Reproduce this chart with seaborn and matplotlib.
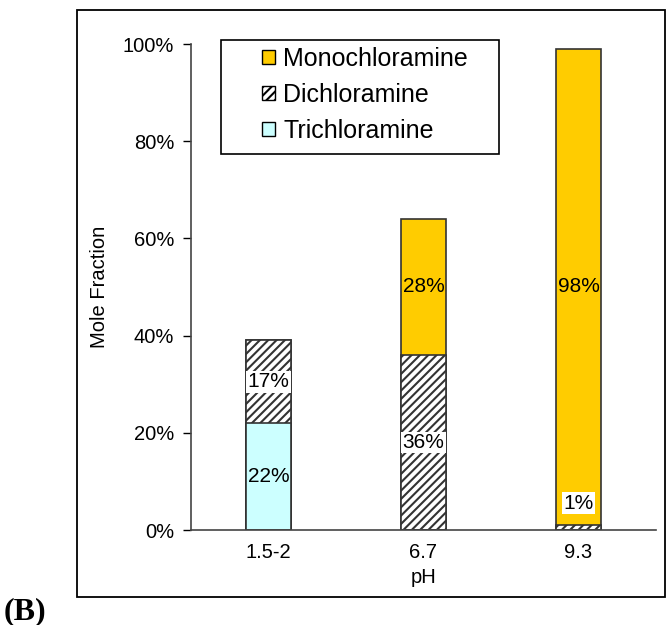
import numpy as np
import pandas as pd
import matplotlib
matplotlib.use("Agg")
import matplotlib.pyplot as plt
import seaborn as sns
from matplotlib.patches import Patch, Rectangle
from matplotlib.ticker import PercentFormatter

# data (mole fraction, %)
ph_labels = ["1.5-2", "6.7", "9.3"]
trichloramine = [22, 0, 0]
dichloramine = [17, 36, 1]
monochloramine = [0, 28, 98]

sns.set_style("white")
plt.rcParams["font.family"] = ["Liberation Sans", "DejaVu Sans"]
plt.rcParams["hatch.linewidth"] = 1.5
plt.rcParams["hatch.color"] = "black"
for key in ["text.color", "axes.labelcolor", "xtick.color", "ytick.color"]:
    plt.rcParams[key] = "black"

df = pd.DataFrame({"pH": ph_labels, "tri": trichloramine,
                   "di": dichloramine, "mono": monochloramine})
df["tri_top"] = df["tri"] / 100
df["di_top"] = (df["tri"] + df["di"]) / 100
df["mono_top"] = (df["tri"] + df["di"] + df["mono"]) / 100

W, H = 667, 625
fig = plt.figure(figsize=(W / 100, H / 100), dpi=100)
ax = fig.add_axes([191 / W, 95 / H, 465 / W, 486 / H])

bar_w = 0.29
sns.barplot(data=df, x="pH", y="mono_top", color="#FFCC00", width=bar_w,
            edgecolor="#333333", linewidth=1.2, saturation=1, ax=ax)
sns.barplot(data=df, x="pH", y="di_top", color="white", width=bar_w,
            edgecolor="#333333", linewidth=1.2, saturation=1, hatch="////", ax=ax)
sns.barplot(data=df, x="pH", y="tri_top", color="#CCFFFF", width=bar_w,
            edgecolor="#333333", linewidth=1.2, saturation=1, ax=ax)

# value labels
box = dict(facecolor="white", edgecolor="none", pad=1.0)
lab_fs = 15
for i, row in df.iterrows():
    if row["tri"] > 0:
        ax.text(i, row["tri_top"] / 2, f"{row['tri']}%", ha="center", va="center",
                fontsize=lab_fs)
    if row["di"] > 0:
        y = (row["tri_top"] + row["di_top"]) / 2
        if row["di"] < 3:
            y = row["di_top"] + 0.045
        ax.text(i, y, f"{row['di']}%", ha="center", va="center",
                fontsize=lab_fs, bbox=box)
    if row["mono"] > 0:
        ax.text(i, (row["di_top"] + row["mono_top"]) / 2, f"{row['mono']}%",
                ha="center", va="center", fontsize=lab_fs)

ax.set_ylim(0, 1)
ax.set_xlim(-0.5, 2.5)
ax.set_yticks(np.arange(0, 1.01, 0.2))
ax.yaxis.set_major_formatter(PercentFormatter(1.0, decimals=0))
ax.set_xticks([0, 1, 2])
ax.set_xticklabels(ph_labels)
ax.set_xticks([-0.5, 0.5, 1.5, 2.5], minor=True)
ax.tick_params(axis="x", which="major", length=0, labelsize=14.5, pad=9)
ax.tick_params(axis="x", which="minor", direction="out", length=6, width=1)
ax.tick_params(axis="y", direction="out", length=6, width=1, labelsize=14.5, pad=6,
               left=True)
ax.set_xlabel("pH", fontsize=14.5, labelpad=5)
ax.set_ylabel("Mole Fraction", fontsize=14.5, labelpad=10)
for s in ["top", "right"]:
    ax.spines[s].set_visible(False)
for s in ["left", "bottom"]:
    ax.spines[s].set_color("#444444")
    ax.spines[s].set_linewidth(1.2)

handles = [
    Patch(facecolor="#FFCC00", edgecolor="black", label="Monochloramine"),
    Patch(facecolor="white", edgecolor="black", hatch="////", label="Dichloramine"),
    Patch(facecolor="#CCFFFF", edgecolor="black", label="Trichloramine"),
]
leg = ax.legend(handles=handles, loc="upper left",
                bbox_to_anchor=(262 / W, 1 - 47 / H), bbox_transform=fig.transFigure,
                fontsize=18, frameon=False, handlelength=0.5,
                handleheight=0.5, handletextpad=0.35, borderpad=0,
                labelspacing=0.48, borderaxespad=0)
leg.set_zorder(6)
# legend frame, wider than the entries as in the original
ax.add_patch(Rectangle((221 / W, 1 - 154 / H), 278 / W, 114 / H,
                       transform=fig.transFigure, facecolor="white",
                       edgecolor="black", linewidth=1.2, zorder=5, clip_on=False))

# outer chart frame and panel tag
fig.patches.append(Rectangle((77 / W, 28 / H), 588 / W, 587 / H,
                             transform=fig.transFigure, fill=False,
                             edgecolor="black", linewidth=1.3))
fig.text(4 / W, 6 / H, "(B)", fontsize=23, fontweight="bold",
         family="Liberation Serif")

fig.savefig("out.png", dpi=100)
